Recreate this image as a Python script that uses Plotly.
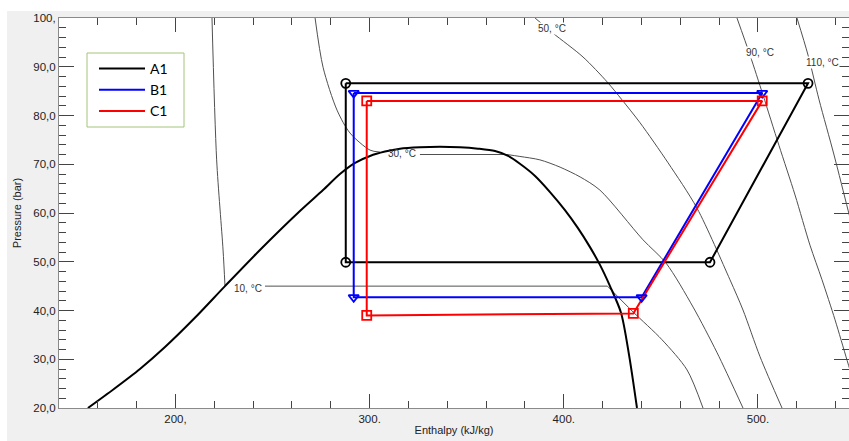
import plotly.graph_objects as go

# ---- CO2 saturation dome (enthalpy kJ/kg, pressure bar) ----
dome_h = [154.9, 168.3, 181.7, 194.6, 210.0, 225.5, 243.5, 264.1, 276.0, 284.7, 292.5, 300.2, 307.9,
          315.6, 325.9, 336.2, 346.5, 355.8, 364.6, 371.3, 377.4, 385.2, 392.9, 400.6, 407.3,
          413.5, 418.7, 423.8, 429.5, 433.6, 437.7]
dome_p = [20.0, 23.9, 28.0, 32.5, 38.5, 45.0, 52.4, 60.4, 64.7, 68.0, 70.3, 71.7, 72.6,
          73.2, 73.5, 73.6, 73.5, 73.2, 72.7, 71.7, 70.1, 67.6, 64.3, 60.6, 56.9,
          53.0, 49.3, 45.0, 39.5, 30.9, 20.0]

# ---- isotherms (None separates liquid branch / two-phase line / vapour branch) ----
t10_h = [218.8, 221.2, 224.5, 225.5, None, 246.1, 422.5, None, 422.5, 435.7, 450.6, 463.5, 471.7]
t10_p = [100.0, 70.9, 52.4, 45.0, None, 45.0, 45.0, None, 45.0, 39.7, 34.0, 27.8, 20.0]

t30_h = [271.9, 276.0, 283.2, 289.9, 300.2, 305.3, None, 325.9, 370.7, None,
         370.7, 377.4, 387.7, 398.1, 408.4, 418.6, 440.8, 452.7, 466.6, 479.0, 492.3]
t30_p = [100.0, 89.9, 81.1, 76.4, 72.9, 72.5, None, 72.0, 72.0, None,
         72.0, 71.6, 70.9, 69.4, 67.4, 64.7, 54.5, 49.7, 40.7, 31.3, 20.0]

t50_h = [385.2, 394.4, 409.9, 422.3, 430.0, 439.3, 453.7, 468.6, 485.6, 492.3, 501.1, 512.4]
t50_p = [100.0, 96.9, 92.0, 86.9, 83.2, 78.5, 70.3, 61.0, 46.3, 40.1, 30.5, 20.0]

t90_h = [489.2, 495.9, 502.6, 510.8, 519.1, 526.8, 533.0, 539.7, 545.9, 550.5]
t90_p = [100.0, 92.4, 84.2, 73.9, 63.7, 53.4, 46.3, 38.1, 29.8, 23.7]

t110_h = [520.1, 525.8, 531.5, 539.2, 546.4, 551.0]
t110_p = [100.0, 92.4, 83.2, 71.9, 60.6, 53.4]

iso_labels = ["10, °C", "30, °C", "50, °C", "90, °C", "110, °C"]
iso_label_h = [237.6, 316.7, 393.9, 501.3, 533.5]
iso_label_p = [44.5, 72.2, 97.9, 92.9, 90.9]
iso_label_bg = [None, None, "white", "white", "white"]

# ---- refrigeration cycles ----
cycle_names = ["A1", "B1", "C1"]
A1_h = [287.7, 525.8, 475.3, 287.7, 287.7]
A1_p = [86.6, 86.6, 49.9, 49.9, 86.6]
B1_h = [291.8, 502.2, 440.1, 291.8, 291.8]
B1_p = [84.6, 84.6, 42.7, 42.7, 84.6]
C1_h = [298.5, 502.2, 435.8, 298.5, 298.5]
C1_p = [83.0, 83.0, 39.4, 39.0, 83.0]

x_ticks = [200, 300, 400, 500]
x_ticktext = ["200,", "300.", "400.", "500."]
y_ticks = [20, 30, 40, 50, 60, 70, 80, 90, 100]
y_ticktext = ["20,0", "30,0", "40,0", "50,0", "60,0", "70,0", "80,0", "90,0", "100,"]

fig = go.Figure()

iso_style = dict(color="#505050", width=1)
for hs, ps in [(t10_h, t10_p), (t30_h, t30_p), (t50_h, t50_p), (t90_h, t90_p), (t110_h, t110_p)]:
    fig.add_trace(go.Scatter(x=hs, y=ps, mode="lines", line=dict(shape="spline", smoothing=0.8, **iso_style),
                             showlegend=False, hoverinfo="skip", connectgaps=False))

fig.add_trace(go.Scatter(x=dome_h, y=dome_p, mode="lines",
                         line=dict(color="black", width=2, shape="spline", smoothing=0.8),
                         showlegend=False, hoverinfo="skip"))

cycles = [(A1_h, A1_p, "black", "circle-open"),
          (B1_h, B1_p, "#0000ff", "triangle-down-open"),
          (C1_h, C1_p, "#ff0000", "square-open")]
for name, (hs, ps, col, sym) in zip(cycle_names, cycles):
    fig.add_trace(go.Scatter(x=hs, y=ps, mode="lines", name=name, line=dict(color=col, width=2)))
for name, (hs, ps, col, sym) in zip(cycle_names, cycles):
    fig.add_trace(go.Scatter(x=hs[:4], y=ps[:4], mode="markers", showlegend=False,
                             marker=dict(symbol=sym, size=9, color=col, line=dict(color=col, width=1.8))))

for txt, h, p, bg in zip(iso_labels, iso_label_h, iso_label_p, iso_label_bg):
    fig.add_annotation(x=h, y=p, text=txt, showarrow=False,
                       font=dict(family="Liberation Sans, Arial", size=10, color="#333333"),
                       bgcolor=bg if bg else "rgba(0,0,0,0)", borderpad=0)

# white strip around the grey panel
L, T, PW, PH = 59, 18, 790, 390
fig.add_shape(type="rect", xref="paper", yref="paper", layer="below",
              x0=-L / PW, x1=(7 - L) / PW, y0=-33 / PH, y1=1 + T / PH,
              line_width=0, fillcolor="white")
fig.add_shape(type="rect", xref="paper", yref="paper", layer="below",
              x0=-L / PW, x1=1.01, y0=1 + (T - 11) / PH, y1=1 + T / PH,
              line_width=0, fillcolor="white")
# legend frame
fig.add_shape(type="rect", xref="paper", yref="paper", layer="above",
              x0=(87 - L) / PW, x1=(184 - L) / PW, y0=1 - (127 - T) / PH, y1=1 - (53 - T) / PH,
              line=dict(color="#a3c47a", width=1), fillcolor="rgba(0,0,0,0)")

tick_font = dict(family="Liberation Sans, Arial", size=11.5, color="#222222")
fig.update_xaxes(range=[140, 546.9], tickvals=x_ticks, ticktext=x_ticktext,
                 ticks="inside", ticklen=14, tickcolor="#444444", tickwidth=1,
                 minor=dict(dtick=20, tick0=0, ticks="inside", ticklen=7, tickcolor="#444444"),
                 showline=True, linecolor="#8a8a8a", mirror="ticks", showgrid=False, zeroline=False,
                 tickfont=tick_font,
                 title=dict(text="Enthalpy (kJ/kg)", standoff=2,
                            font=dict(family="Liberation Sans, Arial", size=11, color="#222222")))
fig.update_yaxes(range=[20, 100], tickvals=y_ticks, ticktext=y_ticktext,
                 ticks="inside", ticklen=15, tickcolor="#444444", tickwidth=1,
                 minor=dict(dtick=2, tick0=0, ticks="inside", ticklen=7, tickcolor="#444444"),
                 showline=True, linecolor="#8a8a8a", mirror="ticks", showgrid=False, zeroline=False,
                 tickfont=tick_font,
                 title=dict(text="Pressure (bar)", standoff=9,
                            font=dict(family="Liberation Sans, Arial", size=11, color="#222222")))

fig.update_layout(
    width=849, height=441,
    margin=dict(l=L, r=0, t=T, b=33, autoexpand=False),
    paper_bgcolor="#f0f0f0", plot_bgcolor="white",
    legend=dict(x=(94 - L) / PW, y=1 - (53 - T) / PH, xanchor="left", yanchor="top",
                bgcolor="rgba(0,0,0,0)", borderwidth=0,
                font=dict(family="Lato, Noto Sans", size=14, color="black"),
                itemwidth=46, tracegroupgap=0),
    showlegend=True,
)

fig.write_html("out.html")
